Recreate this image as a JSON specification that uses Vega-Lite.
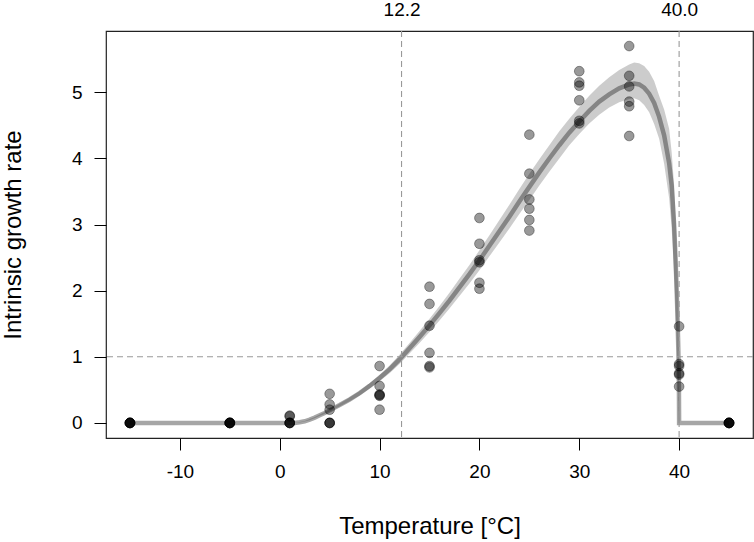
{
  "$schema": "https://vega.github.io/schema/vega-lite/v6.json",
  "width": 647,
  "height": 407,
  "autosize": {"type": "none"},
  "padding": {"left": 106, "top": 31, "right": 1, "bottom": 104},
  "background": "white",
  "config": {
    "font": "Liberation Sans",
    "view": {"stroke": "#222222", "strokeWidth": 1.2},
    "axisBottom": {"domain": false, "grid": false, "ticks": true, "tickSize": 12, "tickColor": "black", "tickWidth": 1, "labelFontSize": 19, "labelColor": "black", "labelPadding": 12, "labelFont": "Liberation Sans", "titleFont": "Liberation Sans", "titleFontSize": 24, "titleFontWeight": "normal", "titleColor": "black", "titleBaseline": "alphabetic", "titleY": 95.6, "titlePadding": 0},
    "axisLeft": {"domain": false, "grid": false, "ticks": true, "tickSize": 12, "tickColor": "black", "tickWidth": 1, "labelFontSize": 19, "labelColor": "black", "labelPadding": 12, "labelAngle": 0, "labelFont": "Liberation Sans", "titleFont": "Liberation Sans", "titleFontSize": 24, "titleFontWeight": "normal", "titleColor": "black", "titleAngle": -90, "titleX": -86, "titleY": 203.5, "titleBaseline": "alphabetic", "titleAlign": "center"},
    "axisTop": {"domain": false, "grid": false, "ticks": false, "tickSize": 0, "labelFontSize": 19, "labelColor": "black", "labelPadding": 16, "labelBaseline": "alphabetic", "labelFont": "Liberation Sans"}
  },
  "datasets": {
    "fit": [
      {"T": -15, "r": 0, "lo": 0, "hi": 0},
      {"T": 1.5, "r": 0, "lo": 0, "hi": 0},
      {"T": 2, "r": 0.01, "lo": 0.007, "hi": 0.013},
      {"T": 2.5, "r": 0.025, "lo": 0.02, "hi": 0.03},
      {"T": 3, "r": 0.05, "lo": 0.042, "hi": 0.058},
      {"T": 3.5, "r": 0.08, "lo": 0.07, "hi": 0.09},
      {"T": 4, "r": 0.115, "lo": 0.103, "hi": 0.127},
      {"T": 4.5, "r": 0.15, "lo": 0.135, "hi": 0.165},
      {"T": 5, "r": 0.19, "lo": 0.173, "hi": 0.207},
      {"T": 6, "r": 0.27, "lo": 0.248, "hi": 0.292},
      {"T": 7, "r": 0.355, "lo": 0.327, "hi": 0.383},
      {"T": 8, "r": 0.45, "lo": 0.416, "hi": 0.484},
      {"T": 9, "r": 0.56, "lo": 0.52, "hi": 0.6},
      {"T": 10, "r": 0.68, "lo": 0.63, "hi": 0.73},
      {"T": 11, "r": 0.81, "lo": 0.75, "hi": 0.87},
      {"T": 12, "r": 0.96, "lo": 0.89, "hi": 1.03},
      {"T": 13, "r": 1.13, "lo": 1.05, "hi": 1.21},
      {"T": 14, "r": 1.3, "lo": 1.21, "hi": 1.39},
      {"T": 15, "r": 1.475, "lo": 1.375, "hi": 1.575},
      {"T": 16, "r": 1.66, "lo": 1.55, "hi": 1.77},
      {"T": 17, "r": 1.85, "lo": 1.73, "hi": 1.97},
      {"T": 18, "r": 2.05, "lo": 1.92, "hi": 2.18},
      {"T": 19, "r": 2.25, "lo": 2.11, "hi": 2.39},
      {"T": 20, "r": 2.46, "lo": 2.31, "hi": 2.61},
      {"T": 21, "r": 2.68, "lo": 2.52, "hi": 2.84},
      {"T": 22, "r": 2.9, "lo": 2.73, "hi": 3.07},
      {"T": 23, "r": 3.12, "lo": 2.94, "hi": 3.3},
      {"T": 24, "r": 3.35, "lo": 3.16, "hi": 3.54},
      {"T": 25, "r": 3.57, "lo": 3.37, "hi": 3.77},
      {"T": 26, "r": 3.79, "lo": 3.59, "hi": 3.99},
      {"T": 27, "r": 4.0, "lo": 3.8, "hi": 4.2},
      {"T": 28, "r": 4.2, "lo": 4.0, "hi": 4.41},
      {"T": 29, "r": 4.39, "lo": 4.2, "hi": 4.6},
      {"T": 30, "r": 4.56, "lo": 4.37, "hi": 4.78},
      {"T": 31, "r": 4.72, "lo": 4.53, "hi": 4.95},
      {"T": 32, "r": 4.86, "lo": 4.66, "hi": 5.1},
      {"T": 33, "r": 4.97, "lo": 4.77, "hi": 5.23},
      {"T": 34, "r": 5.06, "lo": 4.85, "hi": 5.34},
      {"T": 35, "r": 5.12, "lo": 4.9, "hi": 5.42},
      {"T": 35.5, "r": 5.135, "lo": 4.91, "hi": 5.45},
      {"T": 36, "r": 5.12, "lo": 4.88, "hi": 5.44},
      {"T": 36.5, "r": 5.07, "lo": 4.81, "hi": 5.4},
      {"T": 37, "r": 4.98, "lo": 4.7, "hi": 5.31},
      {"T": 37.5, "r": 4.84, "lo": 4.52, "hi": 5.17},
      {"T": 38, "r": 4.63, "lo": 4.3, "hi": 4.95},
      {"T": 38.5, "r": 4.35, "lo": 3.92, "hi": 4.74},
      {"T": 39, "r": 3.93, "lo": 3.4, "hi": 4.45},
      {"T": 39.25, "r": 3.6, "lo": 2.95, "hi": 4.1},
      {"T": 39.5, "r": 3.0, "lo": 2.25, "hi": 3.6},
      {"T": 39.6, "r": 2.65, "lo": 1.9, "hi": 3.3},
      {"T": 39.7, "r": 2.25, "lo": 1.5, "hi": 2.95},
      {"T": 39.8, "r": 1.8, "lo": 1.0, "hi": 2.55},
      {"T": 39.9, "r": 1.25, "lo": 0.35, "hi": 2.0},
      {"T": 39.95, "r": 0.9, "lo": 0, "hi": 1.6},
      {"T": 39.98, "r": 0.55, "lo": 0, "hi": 1.2},
      {"T": 40, "r": 0, "lo": 0, "hi": 0.8},
      {"T": 40.04, "r": 0, "lo": 0, "hi": 0},
      {"T": 45, "r": 0, "lo": 0, "hi": 0}
    ],
    "obs": [
      {"T": -15, "v": 0}, {"T": -15, "v": 0}, {"T": -15, "v": 0}, {"T": -15, "v": 0}, {"T": -15, "v": 0}, {"T": -15, "v": 0},
      {"T": -5, "v": 0}, {"T": -5, "v": 0}, {"T": -5, "v": 0}, {"T": -5, "v": 0}, {"T": -5, "v": 0}, {"T": -5, "v": 0},
      {"T": 1, "v": 0.11}, {"T": 1, "v": 0.1}, {"T": 1, "v": 0}, {"T": 1, "v": 0}, {"T": 1, "v": 0}, {"T": 1, "v": 0},
      {"T": 5, "v": 0.44}, {"T": 5, "v": 0.28}, {"T": 5, "v": 0.2}, {"T": 5, "v": 0}, {"T": 5, "v": 0}, {"T": 5, "v": 0},
      {"T": 10, "v": 0.86}, {"T": 10, "v": 0.56}, {"T": 10, "v": 0.43}, {"T": 10, "v": 0.42}, {"T": 10, "v": 0.41}, {"T": 10, "v": 0.2},
      {"T": 15, "v": 2.06}, {"T": 15, "v": 1.8}, {"T": 15, "v": 1.47}, {"T": 15, "v": 1.06}, {"T": 15, "v": 0.86}, {"T": 15, "v": 0.84},
      {"T": 20, "v": 3.1}, {"T": 20, "v": 2.71}, {"T": 20, "v": 2.46}, {"T": 20, "v": 2.43}, {"T": 20, "v": 2.12}, {"T": 20, "v": 2.03},
      {"T": 25, "v": 4.36}, {"T": 25, "v": 3.77}, {"T": 25, "v": 3.38}, {"T": 25, "v": 3.24}, {"T": 25, "v": 3.07}, {"T": 25, "v": 2.91},
      {"T": 30, "v": 5.32}, {"T": 30, "v": 5.15}, {"T": 30, "v": 5.1}, {"T": 30, "v": 4.88}, {"T": 30, "v": 4.57}, {"T": 30, "v": 4.53},
      {"T": 35, "v": 5.7}, {"T": 35, "v": 5.25}, {"T": 35, "v": 5.09}, {"T": 35, "v": 4.86}, {"T": 35, "v": 4.79}, {"T": 35, "v": 4.34},
      {"T": 40, "v": 1.46}, {"T": 40, "v": 0.89}, {"T": 40, "v": 0.86}, {"T": 40, "v": 0.75}, {"T": 40, "v": 0.73}, {"T": 40, "v": 0.55},
      {"T": 45, "v": 0}, {"T": 45, "v": 0}, {"T": 45, "v": 0}, {"T": 45, "v": 0}, {"T": 45, "v": 0}, {"T": 45, "v": 0}
    ],
    "vlines": [{"x": 12.2}, {"x": 40}],
    "hlines": [{"y": 1}]
  },
  "layer": [
    {
      "data": {"name": "fit"},
      "mark": {"type": "area", "color": "black", "opacity": 0.2, "interpolate": "linear"},
      "encoding": {
        "x": {"field": "T", "type": "quantitative", "scale": {"domain": [-17.4, 47.4], "nice": false, "zero": false}, "axis": null},
        "y": {"field": "lo", "type": "quantitative", "scale": {"domain": [-0.228, 5.928], "nice": false, "zero": false},
              "axis": {"orient": "left", "values": [0, 1, 2, 3, 4, 5], "title": "Intrinsic growth rate"}},
        "y2": {"field": "hi"}
      }
    },
    {
      "data": {"name": "fit"},
      "mark": {"type": "line", "color": "black", "opacity": 0.35, "strokeWidth": 4.5, "interpolate": "linear"},
      "encoding": {
        "x": {"field": "T", "type": "quantitative", "scale": {"domain": [-17.4, 47.4], "nice": false, "zero": false}, "axis": null},
        "y": {"field": "r", "type": "quantitative", "scale": {"domain": [-0.228, 5.928], "nice": false, "zero": false},
              "axis": {"orient": "left", "values": [0, 1, 2, 3, 4, 5], "title": "Intrinsic growth rate"}}
      }
    },
    {
      "data": {"name": "vlines"},
      "mark": {"type": "rule", "color": "#999999", "strokeWidth": 1.1, "strokeDash": [6, 4]},
      "encoding": {
        "x": {"field": "x", "type": "quantitative", "scale": {"domain": [-17.4, 47.4], "nice": false, "zero": false},
              "axis": {"orient": "top", "values": [12.2, 40], "format": ".1f", "title": null}}
      }
    },
    {
      "data": {"name": "hlines"},
      "mark": {"type": "rule", "color": "#999999", "strokeWidth": 1.1, "strokeDash": [6, 4]},
      "encoding": {
        "y": {"field": "y", "type": "quantitative", "scale": {"domain": [-0.228, 5.928], "nice": false, "zero": false},
              "axis": {"orient": "left", "values": [0, 1, 2, 3, 4, 5], "title": "Intrinsic growth rate"}}
      }
    },
    {
      "data": {"name": "obs"},
      "mark": {"type": "circle", "size": 95, "opacity": 1, "fill": "black", "fillOpacity": 0.4, "stroke": "black", "strokeOpacity": 0.35, "strokeWidth": 1},
      "encoding": {
        "x": {"field": "T", "type": "quantitative", "scale": {"domain": [-17.4, 47.4], "nice": false, "zero": false},
              "axis": {"orient": "bottom", "values": [-10, 0, 10, 20, 30, 40], "labelExpr": "'' + datum.value", "title": "Temperature [°C]"}},
        "y": {"field": "v", "type": "quantitative", "scale": {"domain": [-0.228, 5.928], "nice": false, "zero": false},
              "axis": {"orient": "left", "values": [0, 1, 2, 3, 4, 5], "title": "Intrinsic growth rate"}}
      }
    }
  ],
  "resolve": {"axis": {"x": "independent"}}
}
